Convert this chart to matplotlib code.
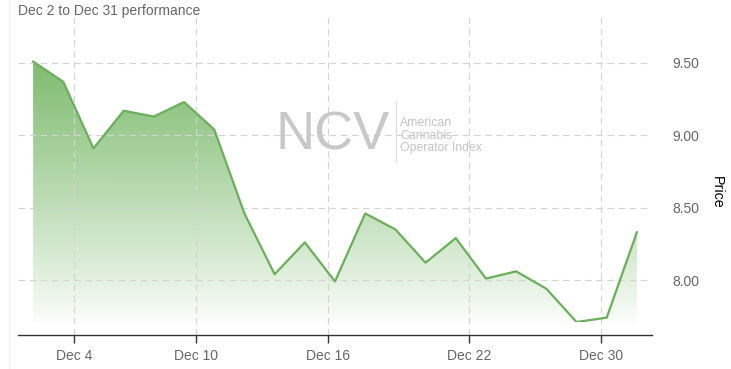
import numpy as np
import matplotlib
matplotlib.use("Agg")
import matplotlib.pyplot as plt
from matplotlib.patches import Polygon
from matplotlib.lines import Line2D

plt.rcParams['font.family'] = ['Liberation Sans', 'DejaVu Sans']

# ---- data ----
dates = ["Dec 2", "Dec 3", "Dec 4", "Dec 5", "Dec 6", "Dec 9", "Dec 10", "Dec 11",
         "Dec 12", "Dec 13", "Dec 16", "Dec 17", "Dec 18", "Dec 19", "Dec 20",
         "Dec 23", "Dec 24", "Dec 26", "Dec 27", "Dec 30", "Dec 31"]
prices = [9.51, 9.37, 8.91, 9.17, 9.13, 9.23, 9.04, 8.46, 8.04, 8.26, 7.99,
          8.46, 8.35, 8.12, 8.29, 8.01, 8.06, 7.94, 7.71, 7.74, 8.33]
xtick_labels = ["Dec 4", "Dec 10", "Dec 16", "Dec 22", "Dec 30"]
xtick_pos = [1.36, 5.40, 9.77, 14.44, 18.81]
ytick_vals = [8.00, 8.50, 9.00, 9.50]

W, H = 731, 369
fig = plt.figure(figsize=(W / 100, H / 100), dpi=100)
fig.patch.set_facecolor('white')

left, right, top, bottom = 18, 652, 15, 322
ax = fig.add_axes([left / W, 1 - bottom / H, (right - left) / W, (bottom - top) / H])
ax.set_facecolor('none')

x = np.arange(len(prices))
ymin = min(prices)
ymax = 9.5 + (63 - top) / 144.7
ax.set_xlim(-0.5, len(prices) - 0.5)
ax.set_ylim(ymin, ymax)

# gradient area fill
green = np.array([0.40, 0.69, 0.33])
n = 256
frac = np.linspace(0, 1, n)[:, None]  # 0 bottom -> 1 top
alpha = 0.02 + 0.95 * frac ** 0.9
img = np.zeros((n, 2, 4))
img[..., :3] = green
img[..., 3] = alpha
im = ax.imshow(img, extent=[x[0], x[-1], ymin, ymax], origin='lower',
               aspect='auto', zorder=1, interpolation='bilinear')
poly_pts = np.column_stack([np.r_[x[0], x, x[-1]], np.r_[ymin, prices, ymin]])
clip = Polygon(poly_pts, closed=True, facecolor='none', edgecolor='none',
               transform=ax.transData)
ax.add_patch(clip)
im.set_clip_path(clip)

ax.plot(x, prices, color='#6aaf5a', lw=1.6, zorder=3, solid_joinstyle='round')

# grid
for yv in ytick_vals:
    ax.axhline(yv, color='#d4d4d4', lw=0.8, ls=(0, (6, 4)), zorder=2)
for xv in xtick_pos:
    ax.plot([xv, xv], [ymin - 13 / 144.7, ymax], color='#d4d4d4', lw=0.8,
            ls=(0, (6, 4)), zorder=2, clip_on=False)

# axes styling
for s in ['top', 'right', 'left']:
    ax.spines[s].set_visible(False)
ax.spines['bottom'].set_position(('outward', 13 * 0.72))
ax.spines['bottom'].set_color('#333333')
ax.spines['bottom'].set_linewidth(1.0)

ax.set_xticks(xtick_pos)
ax.set_xticklabels(xtick_labels)
ax.tick_params(axis='x', length=5.8, width=1.0, color='#333333', labelcolor='#666666',
               labelsize=10, pad=4)

ax.yaxis.tick_right()
ax.set_yticks(ytick_vals)
ax.set_yticklabels([f"{v:.2f}" for v in ytick_vals])
ax.tick_params(axis='y', length=0, labelcolor='#666666', labelsize=10, pad=15)

fig.text(717 / W, 1 - 192 / H, "Price", rotation=-90, ha='center', va='center',
         fontsize=10.3, color='black')

# title
fig.text(18 / W, 1 - 11 / H, "Dec 2 to Dec 31 performance", ha='left', va='center',
         fontsize=10, color='#666666')

# watermark
fig.text(333 / W, 1 - 136 / H, "NCV", ha='center', va='center', fontsize=39,
         color='#c8c8c8', zorder=0)
fig.add_artist(Line2D([396 / W, 396 / W], [1 - 101 / H, 1 - 162 / H],
                      color='#dddddd', lw=0.8))
for i, t in enumerate(["American", "Cannabis", "Operator Index"]):
    fig.text(400 / W, 1 - (123 + 12.7 * i) / H, t, ha='left', va='center',
             fontsize=8.8, color='#c4c4c4')

# page border on the left
fig.add_artist(Line2D([8.5 / W, 8.5 / W], [0, 1], color='#eeeeee', lw=0.8))

fig.savefig('out.png', dpi=100)
